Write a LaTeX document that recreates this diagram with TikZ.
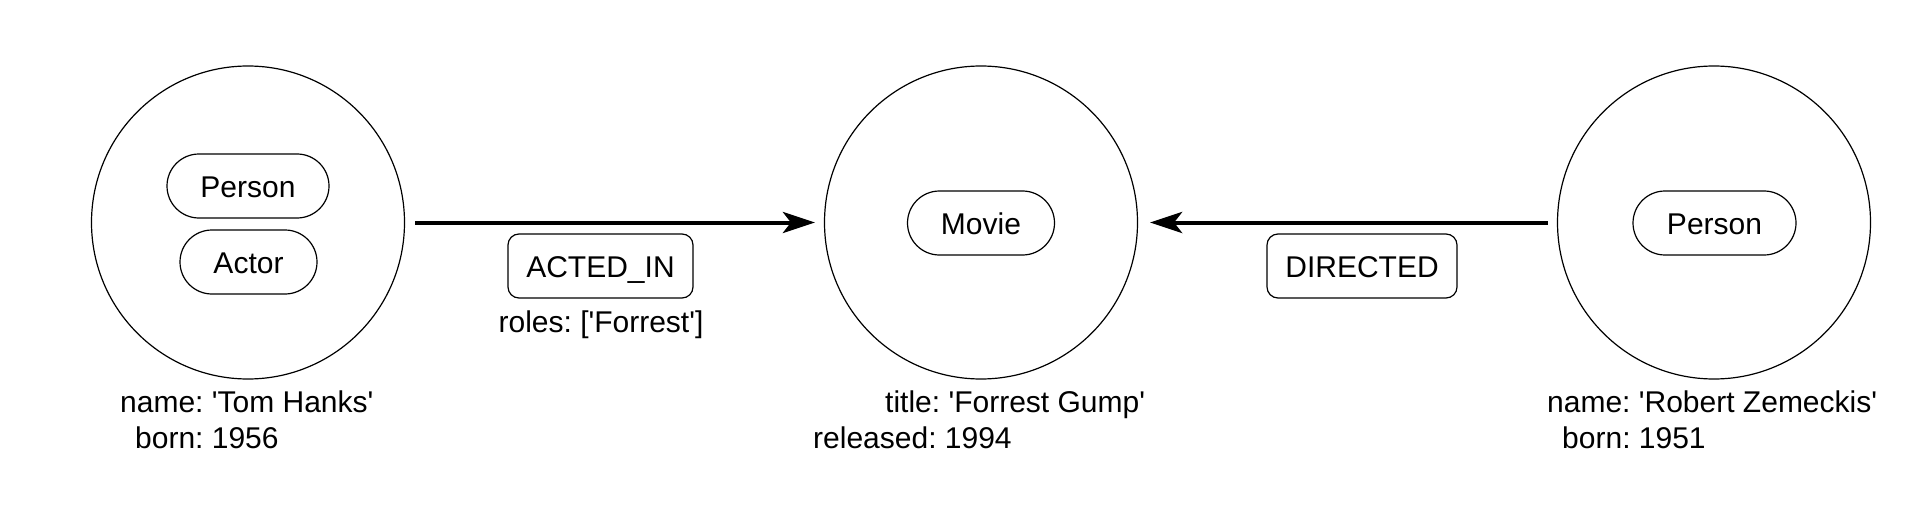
\documentclass[tikz,border=0pt]{standalone}
\usepackage{fontspec}
\setmainfont{Liberation Sans}
\usetikzlibrary{arrows.meta}
\newcommand{\sq}{\textquotesingle}
\frenchspacing
\begin{document}
\begin{tikzpicture}[x=1pt,y=-1pt,
  every node/.style={font=\fontsize{30}{36}\selectfont\frenchspacing},
  graphnode/.style={circle,draw,line width=1.2pt,minimum size=313pt,inner sep=0pt},
  pill/.style={draw,line width=1.2pt,rounded corners=32pt,minimum height=64pt,inner sep=0pt,text height=22pt,text depth=0pt},
  relbox/.style={draw,line width=1.2pt,rounded corners=11pt,minimum height=64pt,inner sep=0pt,text height=22pt,text depth=0pt},
  prop/.style={inner sep=0pt,anchor=base west},
  rel/.style={line width=4pt,-{Stealth[length=32pt,width=21pt,inset=8pt]}}
]
\useasboundingbox[fill=white] (0,0) rectangle (1930,524);

\node[graphnode] (tom) at (248,222.5) {};
\node[graphnode] (movie) at (981,222.5) {};
\node[graphnode] (bob) at (1714,222.5) {};

\node[pill,minimum width=162pt] (tomPerson) at (248,186) {Person};
\node[pill,minimum width=137pt] (tomActor) at (248.5,262) {Actor};
\node[pill,minimum width=147pt] (movieLabel) at (981,223) {Movie};
\node[pill,minimum width=163pt] (bobPerson) at (1714.5,223) {Person};

\draw[rel,shorten <=10pt,shorten >=9pt] (tom.east) -- (movie.west);
\draw[rel,shorten <=9pt,shorten >=12pt] (bob.west) -- (movie.east);

\node[relbox,minimum width=185pt] (acted) at (600.5,266) {ACTED\_IN};
\node[inner sep=0pt,anchor=base] (roles) at (601,332) {roles: [\sq Forrest\sq]};
\node[relbox,minimum width=190pt] (directed) at (1362,266) {DIRECTED};

\node[prop] (tomName) at (120,412) {name: \sq Tom Hanks\sq};
\node[prop] (tomBorn) at (135,448) {born: 1956};
\node[prop] (movieTitle) at (885,412) {title: \sq Forrest Gump\sq};
\node[prop] (movieRel) at (813,448) {released: 1994};
\node[prop] (bobName) at (1547,412) {name: \sq Robert Zemeckis\sq};
\node[prop] (bobBorn) at (1562,448) {born: 1951};
\end{tikzpicture}
\end{document}
